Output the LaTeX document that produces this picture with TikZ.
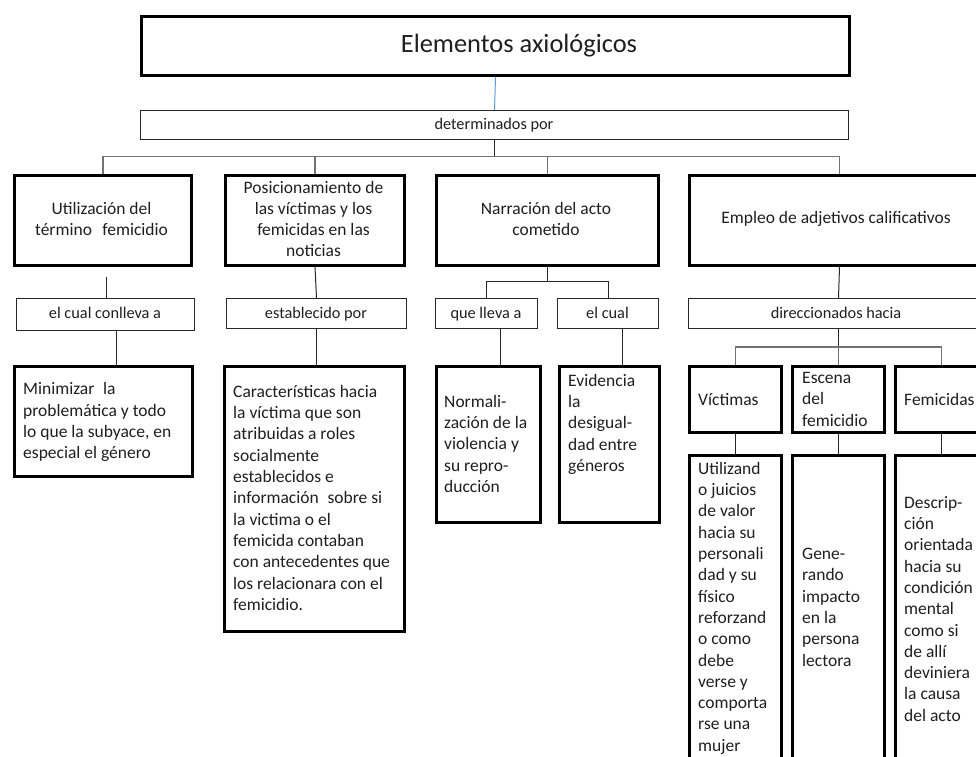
\documentclass[tikz,border=0pt]{standalone}
\usepackage{fontspec}
\setmainfont{Carlito}
\begin{document}
\begin{tikzpicture}[x=1pt,y=-1pt,
  thickbox/.style={draw=black, line width=3pt, rectangle, inner sep=0pt, anchor=north west},
  thinbox/.style={draw=black!85, line width=1pt, rectangle, inner sep=0pt, anchor=north west},
  conn/.style={draw=black!85, line width=1pt},
  busline/.style={draw=black!55, line width=1.2pt},
  blueline/.style={draw={rgb,255:red,91;green,155;blue,213}, line width=1pt},
  txt/.style={font=\fontsize{17.5}{21.3}\selectfont, text=black!88, inner sep=0pt},
  ltxt/.style={txt, align=left, anchor=north west},
  ctxt/.style={txt, align=center},
  lbl/.style={font=\fontsize{16.3}{19}\selectfont, text=black!88, inner sep=0pt, anchor=base}
]
\path[use as bounding box] (0,0) rectangle (976,756);
\clip (0,0) rectangle (976,756);
\fill[white] (0,0) rectangle (976,756);

% title
\node[thickbox, minimum width=708pt, minimum height=59pt] (title) at (140,15) {};
\node[txt, font=\fontsize{26.4}{30}\selectfont, anchor=base] (titletext) at (519,52.5) {Elementos axiológicos};
\node[thinbox, minimum width=708pt, minimum height=29pt] (det) at (140,110) {};
\node[lbl] (dettext) at (494,129.5) {determinados por};

% level 1
\node[thickbox, minimum width=177pt, minimum height=90pt] (u1) at (13,174) {};
\node[thickbox, minimum width=179pt, minimum height=90pt] (u2) at (224,174) {};
\node[thickbox, minimum width=222pt, minimum height=90pt] (u3) at (435,174) {};
\node[thickbox, minimum width=300pt, minimum height=90pt] (u4) at (688,174) {};
\node[ctxt] (u1t) at (101.5,219) {Utilización del\\término\hspace{0.6em}femicidio};
\node[ctxt] (u2t) at (313.5,219) {Posicionamiento de\\las víctimas y los\\femicidas en las\\noticias};
\node[ctxt] (u3t) at (546,219) {Narración del acto\\cometido};
\node[ctxt] (u4t) at (836,219) {Empleo de adjetivos calificativos};

% level 2 labels
\node[thinbox, minimum width=178pt, minimum height=32pt] (l1) at (16,298) {};
\node[thinbox, minimum width=180pt, minimum height=30pt] (l2) at (226,298) {};
\node[thinbox, minimum width=102pt, minimum height=30pt] (l3) at (435,298) {};
\node[thinbox, minimum width=101pt, minimum height=30pt] (l4) at (557,298) {};
\node[thinbox, minimum width=300pt, minimum height=30pt] (l5) at (688,298) {};
\node[lbl] (l1t) at (105,318.8) {el cual conlleva a};
\node[lbl] (l2t) at (316,318.3) {establecido por};
\node[lbl] (l3t) at (486,318.3) {que lleva a};
\node[lbl] (l4t) at (607.5,318.3) {el cual};
\node[lbl] (l5t) at (836,318.3) {direccionados hacia};

% level 3 boxes
\node[thickbox, minimum width=178pt, minimum height=110pt] (b1) at (13,365) {};
\node[thickbox, minimum width=180pt, minimum height=265pt] (b2) at (223,365) {};
\node[thickbox, minimum width=104pt, minimum height=156pt] (b3) at (435,365) {};
\node[thickbox, minimum width=100pt, minimum height=156pt] (b4) at (558,365) {};
\node[ltxt] (b1t) at (23,382.5) {Minimizar\hspace{0.5em}la\\problemática y todo\\lo que la subyace, en\\especial el género};
\node[ltxt] (b2t) at (233,385) {Características hacia\\la víctima que son\\atribuidas a roles\\socialmente\\establecidos e\\información\hspace{0.5em}sobre si\\la victima o el\\femicida contaban\\con antecedentes que\\los relacionara con el\\femicidio.};
\node[ltxt] (b3t) at (444,395) {Normali-\\zación de la\\violencia y\\su repro-\\ducción};
\node[ltxt] (b4t) at (568,374) {Evidencia\\la\\desigual-\\dad entre\\géneros};

% right branch
\node[thickbox, minimum width=92pt, minimum height=66pt] (v1) at (688,365) {};
\node[thickbox, minimum width=92pt, minimum height=66pt] (v2) at (791,365) {};
\node[thickbox, minimum width=92pt, minimum height=66pt] (v3) at (894,365) {};
\node[ltxt] (v1t) at (698,393) {Víctimas};
\node[ltxt] (v2t) at (802,372) {Escena\\del\\femicidio};
\node[ltxt] (v3t) at (904,393) {Femicidas};
\node[thickbox, minimum width=92pt, minimum height=330pt] (d1) at (688,454) {};
\node[thickbox, minimum width=92pt, minimum height=330pt] (d2) at (791,454) {};
\node[thickbox, minimum width=92pt, minimum height=330pt] (d3) at (894,454) {};
\node[ltxt] (d1t) at (698,462) {Utilizand\\o juicios\\de valor\\hacia su\\personali\\dad y su\\físico\\reforzand\\o como\\debe\\verse y\\comporta\\rse una\\mujer};
\node[ltxt] (d2t) at (802,548) {Gene-\\rando\\impacto\\en la\\persona\\lectora};
\node[ltxt] (d3t) at (904,496) {Descrip-\\ción\\orientada\\hacia su\\condición\\mental\\como si\\de allí\\deviniera\\la causa\\del acto};

% connectors
\coordinate (bus) at (0,156.5);
\coordinate (busB) at (0,281);
\coordinate (busC) at (0,347);
\draw[blueline] (title.south) -- (det.north);
\draw[conn] (det.south) -- (det.south |- bus);
\draw[busline] (u1.north) |- (u4.north |- bus) -- (u4.north);
\draw[busline] (u2.north) -- (u2.north |- bus);
\draw[busline] (u3.north) -- (u3.north |- bus);

\draw[conn, shorten <=10pt] ([xshift=3.5pt]u1.south) -- ([xshift=3.5pt]u1.south |- l1.north);
\draw[conn] (u2.south) -- (l2.north);
\draw[conn] (l1.south -| 116,0) -- (b1.north -| 116,0);
\draw[conn] (l2.south) -- (l2.south |- b2.north);

\draw[conn] (u3.south) -- (u3.south |- busB);
\draw[conn] (l3.north) |- (l4.north |- busB) -- (l4.north);
\draw[conn] (l3.south -| 500.5,0) -- (b3.north -| 500.5,0);
\draw[conn] (l4.south -| 622,0) -- (b4.north -| 622,0);

\draw[conn] (u4.south) -- (l5.north);
\draw[conn] (l5.south) -- (l5.south |- busC);
\draw[busline] (v1.north) |- (v3.north |- busC) -- (v3.north);
\draw[busline] (v2.north) -- (v2.north |- busC);
\draw[conn] (v1.south) -- (d1.north);
\draw[conn] (v2.south) -- (d2.north);
\draw[conn] (v3.south) -- (d3.north);
\end{tikzpicture}
\end{document}
